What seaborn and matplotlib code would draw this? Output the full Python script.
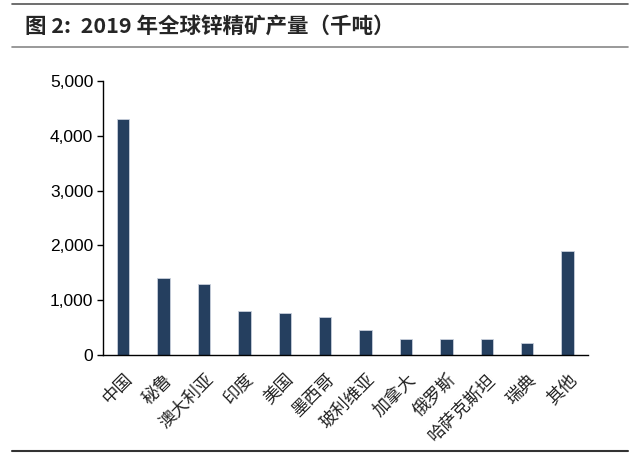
import matplotlib
matplotlib.use("Agg")
import matplotlib.pyplot as plt
import seaborn as sns
import pandas as pd
from matplotlib.lines import Line2D
from matplotlib.ticker import FuncFormatter

countries = ["中国", "秘鲁", "澳大利亚", "印度", "美国", "墨西哥", "玻利维亚",
             "加拿大", "俄罗斯", "哈萨克斯坦", "瑞典", "其他"]
output_kt = [4300, 1400, 1300, 800, 775, 690, 460, 300, 300, 285, 225, 1900]
yticks = [0, 1000, 2000, 3000, 4000, 5000]

sns.set_theme(style="white")
plt.rcParams['font.family'] = ['Liberation Sans', 'Noto Sans CJK SC', 'DejaVu Sans']

df = pd.DataFrame({"country": countries, "value": output_kt})

fig = plt.figure(figsize=(6.41, 4.53), dpi=100)
ax = fig.add_axes([0.1607, 0.2163, 0.9170 - 0.1607, 0.821 - 0.2163])
sns.barplot(data=df, x="country", y="value", color="#253F5F", width=0.31,
            saturation=1, edgecolor="#C8D0DC", linewidth=0.6, ax=ax)

ax.set_xlim(-0.5, len(countries) - 0.5)
ax.set_ylim(0, 5000)
ax.set_yticks(yticks)
ax.yaxis.set_major_formatter(FuncFormatter(lambda v, p: f"{int(v):,}"))
ax.set_xlabel("")
ax.set_ylabel("")
for s in ["top", "right"]:
    ax.spines[s].set_visible(False)
for s in ["left", "bottom"]:
    ax.spines[s].set_color("black")
    ax.spines[s].set_linewidth(1.0)
ax.tick_params(axis="y", which="major", left=True, length=4, width=1, color="black",
               labelsize=12.5, pad=3, labelcolor="black")
ax.tick_params(axis="x", bottom=False, pad=5)
ax.set_xticks(range(len(countries)))
ax.set_xticklabels(countries, rotation=45, ha="right", rotation_mode="anchor",
                   fontsize=12.5, family=["Noto Sans CJK SC"], color="#222222")

# title and rules
fig.add_artist(Line2D([12/641, 628/641], [1 - 4/453, 1 - 4/453], color="#555555", lw=1.2))
fig.add_artist(Line2D([12/641, 628/641], [1 - 47/453, 1 - 47/453], color="#888888", lw=1.2))
fig.add_artist(Line2D([12/641, 628/641], [1 - 451/453, 1 - 451/453], color="#333333", lw=1.5))
fig.text(25/641, 1 - 26/453, "图 2:  2019 年全球锌精矿产量（千吨）", fontsize=15.5,
         fontweight="bold", va="center", ha="left",
         family=["Noto Sans CJK SC", "DejaVu Sans"])

fig.savefig("out.png", dpi=100)
